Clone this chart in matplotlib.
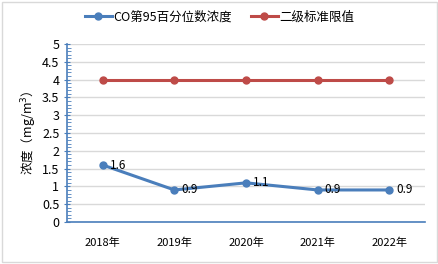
import matplotlib
matplotlib.use("Agg")
import matplotlib.pyplot as plt
from matplotlib.ticker import MultipleLocator, FuncFormatter
from matplotlib.patches import Rectangle

plt.rcParams['font.family'] = ['Noto Sans CJK SC', 'DejaVu Sans']

years = ["2018年", "2019年", "2020年", "2021年", "2022年"]
co95 = [1.6, 0.9, 1.1, 0.9, 0.9]
limit = [4, 4, 4, 4, 4]
series_names = ["CO第95百分位数浓度", "二级标准限值"]

blue = "#4A7EBB"
red = "#BE4B48"

fig = plt.figure(figsize=(4.39, 2.64), dpi=100)
fig.patch.set_facecolor("white")
fig.add_artist(Rectangle((0.005, 0.008), 0.99, 0.985, transform=fig.transFigure,
                         fill=False, edgecolor="#D9D9D9", linewidth=1))

ax = fig.add_axes([67/439, 1-222/264, (425-67)/439, (222-44)/264])
x = list(range(len(years)))
ax.plot(x, co95, color=blue, linewidth=2.2, marker="o", markersize=5, label=series_names[0], zorder=3)
ax.plot(x, limit, color=red, linewidth=2.2, marker="o", markersize=5, label=series_names[1], zorder=3)

for xi, v in zip(x, co95):
    ax.annotate(f"{v:g}", (xi, v), xytext=(5, 0), textcoords="offset points",
                ha="left", va="center", fontsize=8.5, color="#000000")

ax.set_xlim(-0.5, len(years) - 0.5)
ax.set_ylim(0, 5)
ax.set_xticks(x)
ax.set_xticklabels(years, fontsize=8)
ax.yaxis.set_major_locator(MultipleLocator(0.5))
ax.yaxis.set_minor_locator(MultipleLocator(0.1))
ax.yaxis.set_major_formatter(FuncFormatter(lambda v, p: f"{v:g}"))
ax.tick_params(axis="y", which="major", labelsize=9, direction="inout", length=5, color=blue, pad=3)
ax.tick_params(axis="y", which="minor", direction="in", length=3, color=blue)
ax.tick_params(axis="x", length=0, pad=11)
ax.grid(axis="y", which="major", color="#D9D9D9", linewidth=1)
ax.set_axisbelow(True)
for s in ["top", "right"]:
    ax.spines[s].set_visible(False)
ax.spines["left"].set_color(blue)
ax.spines["bottom"].set_color(blue)
ax.spines["left"].set_linewidth(1.2)
ax.spines["bottom"].set_linewidth(1.2)

ax.set_ylabel("浓度（mg/m$^3$）", fontsize=9, labelpad=2)

fig.legend(loc="center", bbox_to_anchor=(0.5, 1 - 17/264), ncol=2, frameon=False,
           fontsize=9, handlelength=2.2, columnspacing=1.5, handletextpad=0.1)

fig.savefig("out.png", dpi=100)
